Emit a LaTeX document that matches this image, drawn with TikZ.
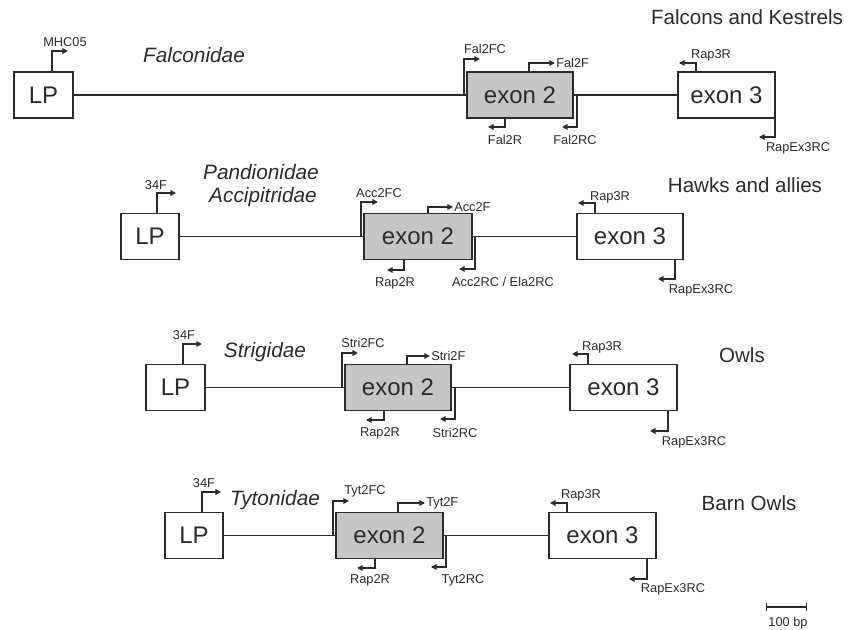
\documentclass[tikz,border=0pt]{standalone}
\usepackage{fontspec}
\setmainfont{Liberation Sans}
\usetikzlibrary{arrows.meta}
\definecolor{ink}{HTML}{2B2B2B}
\definecolor{exfill}{HTML}{C6C6C6}
\tikzset{
  gbox/.style 2 args={draw=ink, line width=1.3pt, inner sep=0pt, minimum width=#1*0.75pt, minimum height=#2*0.75pt, text=ink, font=\fontsize{18}{20}\selectfont},
  lpbox/.style={gbox={58}{46}, fill=white},
  exon/.style={gbox={#1}{46}, fill=exfill},
  exonw/.style={gbox={#1}{46}, fill=white},
  backbone/.style={draw=ink, line width=1.1pt},
  primer/.style={draw=ink, line width=1.1pt, -{Triangle[length=4.2pt,width=4.2pt]}},
  plabel/.style={text=ink, inner sep=0pt, font=\fontsize{9.6}{11}\selectfont},
  family/.style={text=ink, inner sep=0pt, font=\fontsize{15.6}{17}\selectfont\itshape},
  group/.style={text=ink, inner sep=0pt, font=\fontsize{15.4}{17}\selectfont},
}
\begin{document}
\begin{tikzpicture}[x=0.75pt, y=-0.75pt]
\useasboundingbox (0,0) rectangle (859,630);

% ---------------- Row 1: Falconidae ----------------
\node[lpbox, minimum width=59*0.75pt] (lp1) at (43.5,95) {LP};
\node[exon=106] (ea1) at (520,95) {exon 2};
\node[exonw=97] (eb1) at (726.5,95) {exon 3};
\draw[backbone] (lp1.east) -- (ea1.west);
\draw[backbone] (ea1.east) -- (eb1.west);
\node[family] (fam1) at (194,55) {Falconidae};
\node[group] (grp1) at (747,17) {Falcons and Kestrels};
\draw[primer] (52,71) |- (68,51);
\node[plabel] (p11) at (65,42) {MHC05};
\draw[primer] (464,95) |- (480,59);
\node[plabel] (p12) at (485,49) {Fal2FC};
\draw[primer] (529,72) |- (555,63);
\node[plabel, anchor=west] (p13) at (556,63) {Fal2F};
\draw[primer] (505,118) |- (488,127);
\node[plabel] (p14) at (505,140) {Fal2R};
\draw[primer] (577,95) |- (562,127);
\node[plabel] (p15) at (575,140) {Fal2RC};
\draw[primer] (696,72) |- (679,63);
\node[plabel] (p16) at (711,55) {Rap3R};
\draw[primer] (775,118) |- (759,137);
\node[plabel] (p17) at (798,148) {RapEx3RC};

% ---------------- Row 2: Pandionidae / Accipitridae ----------------
\node[lpbox] (lp2) at (150,236.5) {LP};
\node[exon=108] (ea2) at (418,236.5) {exon 2};
\node[exonw=106] (eb2) at (630,236.5) {exon 3};
\draw[backbone] (lp2.east) -- (ea2.west);
\draw[backbone] (ea2.east) -- (eb2.west);
\node[family] (fam2a) at (261,172) {Pandionidae};
\node[family] (fam2b) at (263,197) {Accipitridae};
\node[group] (grp2) at (745,185) {Hawks and allies};
\draw[primer] (157,213.5) |- (176,193);
\node[plabel] (p21) at (156,185) {34F};
\draw[primer] (361,236.5) |- (378,202);
\node[plabel] (p22) at (379,193) {Acc2FC};
\draw[primer] (428,213.5) |- (453,207);
\node[plabel, anchor=west] (p23) at (454,207) {Acc2F};
\draw[primer] (404,259.5) |- (387,270);
\node[plabel] (p24) at (395,283) {Rap2R};
\draw[primer] (475,236.5) |- (459,269);
\node[plabel] (p25) at (503,282) {Acc2RC / Ela2RC};
\draw[primer] (595,213.5) |- (578,203);
\node[plabel] (p26) at (610,197) {Rap3R};
\draw[primer] (675,259.5) |- (658,279);
\node[plabel] (p27) at (701,290) {RapEx3RC};

% ---------------- Row 3: Strigidae ----------------
\node[lpbox, minimum width=59*0.75pt] (lp3) at (175.5,387.5) {LP};
\node[exon=106] (ea3) at (398,387.5) {exon 2};
\node[exonw=107] (eb3) at (623.5,387.5) {exon 3};
\draw[backbone] (lp3.east) -- (ea3.west);
\draw[backbone] (ea3.east) -- (eb3.west);
\node[family] (fam3) at (265,352) {Strigidae};
\node[group] (grp3) at (742,355) {Owls};
\draw[primer] (183,364.5) |- (202,344);
\node[plabel] (p31) at (184,335) {34F};
\draw[primer] (342,387.5) |- (358,353);
\node[plabel] (p32) at (363,343) {Stri2FC};
\draw[primer] (407,364.5) |- (430,356);
\node[plabel, anchor=west] (p33) at (431,356) {Stri2F};
\draw[primer] (384,410.5) |- (366,420);
\node[plabel] (p34) at (380,433) {Rap2R};
\draw[primer] (455,387.5) |- (440,419);
\node[plabel] (p35) at (455,433) {Stri2RC};
\draw[primer] (588,364.5) |- (572,354);
\node[plabel] (p36) at (602,347) {Rap3R};
\draw[primer] (668,410.5) |- (650,431);
\node[plabel] (p37) at (694,442) {RapEx3RC};

% ---------------- Row 4: Tytonidae ----------------
\node[lpbox] (lp4) at (194,535.5) {LP};
\node[exon=107] (ea4) at (389.5,535.5) {exon 2};
\node[exonw=107] (eb4) at (602.5,535.5) {exon 3};
\draw[backbone] (lp4.east) -- (ea4.west);
\draw[backbone] (ea4.east) -- (eb4.west);
\node[family] (fam4) at (275,500) {Tytonidae};
\node[group] (grp4) at (749,503) {Barn Owls};
\draw[primer] (202,512.5) |- (221,492);
\node[plabel] (p41) at (204,483) {34F};
\draw[primer] (333,535.5) |- (349,501);
\node[plabel] (p42) at (365,491) {Tyt2FC};
\draw[primer] (398,512.5) |- (425,503);
\node[plabel, anchor=west] (p43) at (426,503) {Tyt2F};
\draw[primer] (375,558.5) |- (357,568);
\node[plabel] (p44) at (370,580) {Rap2R};
\draw[primer] (446,535.5) |- (431,567);
\node[plabel] (p45) at (463,580) {Tyt2RC};
\draw[primer] (567,512.5) |- (550,503);
\node[plabel] (p46) at (581,495) {Rap3R};
\draw[primer] (647,558.5) |- (629,579);
\node[plabel] (p47) at (673,589) {RapEx3RC};

% ---------------- scale bar ----------------
\coordinate (sbl) at (766,607);
\coordinate (sbr) at (807,607);
\draw[draw=ink, line width=1.1pt, {Bar[width=6pt]}-{Bar[width=6pt]}] (sbl) -- (sbr);
\node[plabel] (sbt) at (788,623) {100 bp};
\end{tikzpicture}
\end{document}
